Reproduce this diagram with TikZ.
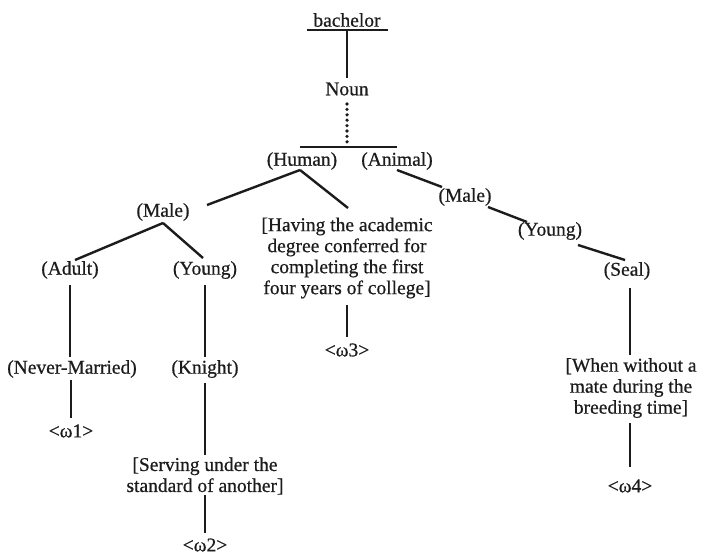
\documentclass[tikz,border=0pt]{standalone}
\usepackage{fontspec}
\setmainfont{Liberation Serif}[FakeBold=0.6]
\usepackage{tikz}
\definecolor{ink}{RGB}{28,28,28}
\begin{document}
\begin{tikzpicture}[x=1pt,y=-1pt,
  lbl/.style={inner sep=0pt, text=ink, font=\fontsize{19.5}{21}\selectfont, align=center},
  conn/.style={draw=ink, line width=2.4pt},
  dotline/.style={draw=ink, line width=3.6pt, line cap=round, dash pattern=on 0pt off 5.4pt}]
\useasboundingbox[fill=white] (0,0) rectangle (703,557);

% nodes
\node[lbl] (bachelor) at (347,20) {bachelor};
\node[lbl] (noun) at (347,89) {Noun};
\node[lbl] (human) at (302,161) {(Human)};
\node[lbl] (animal) at (397,161) {(Animal)};
\node[lbl] (maleL) at (163,212) {(Male)};
\node[lbl] (having) at (347,258) {[Having the academic\\degree conferred for\\completing the first\\four years of college]};
\node[lbl] (adult) at (70,270) {(Adult)};
\node[lbl] (youngL) at (205,270) {(Young)};
\node[lbl] (never) at (72,369) {(Never-Married)};
\node[lbl] (knight) at (205,369) {(Knight)};
\node[lbl] (w1) at (71,431) {<ω1>};
\node[lbl] (w3) at (347,350) {<ω3>};
\node[lbl] (serving) at (205,476) {[Serving under the\\standard of another]};
\node[lbl] (w2) at (205,545) {<ω2>};
\node[lbl] (maleR) at (465,197) {(Male)};
\node[lbl] (youngR) at (550,231) {(Young)};
\node[lbl] (seal) at (627,271) {(Seal)};
\node[lbl] (when) at (631,388) {[When without a\\mate during the\\breeding time]};
\node[lbl] (w4) at (630,486) {<ω4>};

% connector end points
\coordinate (barA) at (307,30);
\coordinate (barB) at (388,30);
\coordinate (bachB) at (347,30);
\coordinate (nounT) at (347,78);
\coordinate (nounB) at (347,104);
\coordinate (splitT) at (347,143);
\coordinate (splitA) at (300,147);
\coordinate (splitB) at (397,147);
\coordinate (humanB) at (300,170);
\coordinate (maleLR) at (207,205);
\coordinate (havingT) at (348,208);
\coordinate (maleLB) at (163,223);
\coordinate (adultT) at (75,260);
\coordinate (youngLT) at (203,258);
\coordinate (adultB) at (70,285);
\coordinate (neverT) at (70,357);
\coordinate (neverB) at (71,380);
\coordinate (w1T) at (71,418);
\coordinate (youngLB) at (205,285);
\coordinate (knightT) at (205,357);
\coordinate (knightB) at (205,383);
\coordinate (servingT) at (205,455);
\coordinate (servingB) at (205,495);
\coordinate (w2T) at (205,533);
\coordinate (havingB) at (347,305);
\coordinate (w3T) at (347,337);
\coordinate (animalB) at (397,170);
\coordinate (maleRL) at (442,187);
\coordinate (maleRR) at (488,207);
\coordinate (youngRL) at (527,222);
\coordinate (youngRR) at (578,245);
\coordinate (sealL) at (625,260);
\coordinate (sealB) at (630,288);
\coordinate (whenT) at (630,355);
\coordinate (whenB) at (630,423);
\coordinate (w4T) at (630,467);

% connectors
\draw[conn] (barA) -- (barB);
\draw[conn] (bachB) -- (nounT);
\draw[dotline] (nounB) -- (splitT);
\draw[conn] (splitA) -- (splitB);
\draw[conn] (humanB) -- (maleLR);
\draw[conn] (humanB) -- (havingT);
\draw[conn] (maleLB) -- (adultT);
\draw[conn] (maleLB) -- (youngLT);
\draw[conn] (adultB) -- (neverT);
\draw[conn] (neverB) -- (w1T);
\draw[conn] (youngLB) -- (knightT);
\draw[conn] (knightB) -- (servingT);
\draw[conn] (servingB) -- (w2T);
\draw[conn] (havingB) -- (w3T);
\draw[conn] (animalB) -- (maleRL);
\draw[conn] (maleRR) -- (youngRL);
\draw[conn] (youngRR) -- (sealL);
\draw[conn] (sealB) -- (whenT);
\draw[conn] (whenB) -- (w4T);
\end{tikzpicture}
\end{document}
